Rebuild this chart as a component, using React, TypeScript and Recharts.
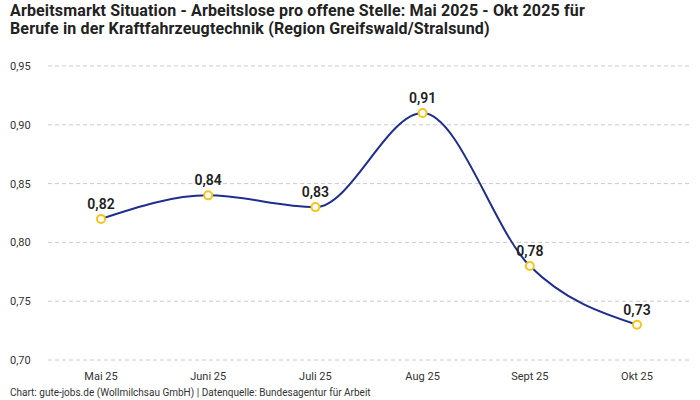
import React from 'react';
import { LineChart, Line, XAxis, YAxis, CartesianGrid, LabelList } from 'recharts';

const months = ['Mai 25', 'Juni 25', 'Juli 25', 'Aug 25', 'Sept 25', 'Okt 25'];
const ratio = [0.82, 0.84, 0.83, 0.91, 0.78, 0.73];
const yTicks = [0.7, 0.75, 0.8, 0.85, 0.9, 0.95];

const data = months.map((m, i) => ({ month: m, value: ratio[i] }));

const fmt = (v: number) => v.toFixed(2).replace('.', ',');
const FONT = 'Roboto, "Noto Sans", sans-serif';

const YTick = (props: any) => {
  const { y, payload } = props;
  return (
    <text x={10} y={y} dy={4} fontSize={11} fill="#333" fontFamily={FONT}>
      {fmt(payload.value)}
    </text>
  );
};

export default function App() {
  return (
    <div style={{ position: 'absolute', left: 0, top: 0, width: 700, height: 400, background: '#fff', fontFamily: FONT }}>
      <div style={{ position: 'absolute', left: 10, top: 2, fontSize: 16, lineHeight: '18px', fontWeight: 700, color: '#222', letterSpacing: 0.15 }}>
        Arbeitsmarkt Situation - Arbeitslose pro offene Stelle: Mai 2025 - Okt 2025 für
        <br />
        Berufe in der Kraftfahrzeugtechnik (Region Greifswald/Stralsund)
      </div>
      <div style={{ position: 'absolute', top: 0, left: 0 }}>
        <LineChart width={700} height={400} data={data} margin={{ top: 66, right: 10, left: 0, bottom: 16 }}>
          <CartesianGrid vertical={false} stroke="#ccc" strokeDasharray="4 3" />
          <XAxis
            dataKey="month"
            axisLine={false}
            tickLine={false}
            height={24}
            padding={{ left: 53, right: 53 }}
            dy={4}
            tick={{ fontSize: 11, fill: '#333', fontFamily: FONT }}
          />
          <YAxis
            domain={[0.7, 0.95]}
            ticks={yTicks}
            axisLine={false}
            tickLine={false}
            width={48}
            tick={<YTick />}
          />
          <Line
            type="monotone"
            dataKey="value"
            stroke="#1f2d8f"
            strokeWidth={2}
            dot={{ r: 4, stroke: '#f5c518', strokeWidth: 2, fill: '#fff' }}
            isAnimationActive={false}
          >
            <LabelList
              dataKey="value"
              position="top"
              offset={10}
              formatter={(v: any) => fmt(Number(v))}
              style={{ fontSize: 14, fontWeight: 600, fill: '#222', fontFamily: FONT }}
            />
          </Line>
        </LineChart>
      </div>
      <div style={{ position: 'absolute', left: 10, top: 387, fontSize: 10, lineHeight: '12px', color: '#333' }}>
        Chart: gute-jobs.de (Wollmilchsau GmbH) | Datenquelle: Bundesagentur für Arbeit
      </div>
    </div>
  );
}
